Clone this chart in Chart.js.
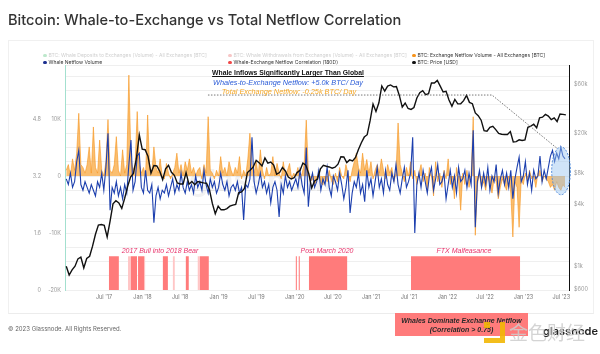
<!DOCTYPE html>
<html>
<head>
<meta charset="utf-8">
<script src="https://cdn.jsdelivr.net/npm/chart.js@4.4.0/dist/chart.umd.min.js"></script>
<style>
  body { margin: 0; background: #fff; font-family: Inter, "Noto Sans", sans-serif; }
  #wrap { position: relative; width: 600px; height: 354px; overflow: hidden; background: #fff; }
  #card { position: absolute; left: 8px; top: 40px; width: 584px; height: 272px; border: 1px solid #f0f0f0; border-bottom: 1px solid #ececec; }
  canvas { position: absolute; left: 0; top: 0; }
  .t { position: absolute; white-space: nowrap; line-height: 1; }
  .c { transform: translateX(-50%); }
  .lg { position: absolute; white-space: nowrap; font-size: 5px; line-height: 1; color: #333; }
  .lg i { display: inline-block; width: 3.5px; height: 3.5px; border-radius: 50%; margin-right: 2px; vertical-align: 0; }
  .lg.off { color: #cfcfcf; }
  .note { font-family: "Liberation Sans", Arial, sans-serif; font-size: 7.3px; }
  .era { font-family: "Liberation Sans", Arial, sans-serif; font-style: italic; font-size: 7px; color: #e8336b; }
  #redbox { position: absolute; left: 395px; top: 313px; width: 133px; height: 23px; background: #ff7b7b;
            font-family: "Liberation Sans", Arial, sans-serif; font-weight: bold; font-style: italic; font-size: 7px;
            color: #2a2a2a; text-align: center; line-height: 9px; padding-top: 3px; box-sizing: border-box; }
  #jlogo { position: absolute; left: 484px; top: 322px; width: 16px; height: 16px; border-right: 5px solid #f2b705; border-bottom: 5px solid #f2b705; opacity: 0.9; }
  #jlogo b { position: absolute; left: 0; top: 0; width: 6px; height: 6px; background: #f2b705; }
</style>
</head>
<body>
<div id="wrap">
  <div id="card"></div>
  <canvas id="chart" width="600" height="354"></canvas>

  <div class="t" style="left:8px;top:13px;font-size:14.6px;font-weight:500;color:#333;">Bitcoin: Whale-to-Exchange vs Total Netflow Correlation</div>

  <div class="lg off" style="left:43px;top:53px"><i style="background:#bde8cc"></i>BTC: Whale Deposits to Exchanges (Volume) - All Exchanges [BTC]</div>
  <div class="lg off" style="left:228px;top:53px"><i style="background:#f7c6c6"></i>BTC: Whale Withdrawals from Exchanges (Volume) - All Exchanges [BTC]</div>
  <div class="lg" style="left:412px;top:53px"><i style="background:#f7931a"></i>BTC: Exchange Netflow Volume - All Exchanges [BTC]</div>
  <div class="lg" style="left:43px;top:60px"><i style="background:#1c2f8f"></i>Whale Netflow Volume</div>
  <div class="lg" style="left:228px;top:60px"><i style="background:#f04848"></i>Whale-Exchange Netflow Correlation (180D)</div>
  <div class="lg" style="left:412px;top:60px"><i style="background:#111"></i>BTC: Price [USD]</div>

  <div class="t c note" style="left:288px;top:70px;font-weight:bold;font-size:6.8px;color:#111;text-decoration:underline;">Whale Inflows Significantly Larger Than Global</div>
  <div class="t c note" style="left:288px;top:79px;font-style:italic;color:#2a5bd7;">Whales-to-Exchange Netflow: +5.0k BTC/ Day</div>
  <div class="t c note" style="left:289px;top:87.5px;font-style:italic;color:#f5a623;">Total Exchange Netflow: -0.25k BTC/ Day</div>

  <div class="t c era" style="left:160px;top:247px;">2017 Bull into 2018 Bear</div>
  <div class="t c era" style="left:327px;top:247px;">Post March 2020</div>
  <div class="t c era" style="left:464px;top:247px;">FTX Malfeasance</div>

  <div class="t" style="left:8px;top:326px;font-size:6px;color:#666;">© 2023 Glassnode. All Rights Reserved.</div>
  <div id="redbox">Whales Dominate Exchange Netflow<br>(Correlation &gt; 0.75)</div>
  <div class="t" style="left:543px;top:326px;font-size:11px;font-weight:600;color:#222;">glassnode</div>
  <div id="jlogo"><b></b></div>
  <div class="t" style="left:509px;top:322px;font-size:19px;font-family:'Noto Sans CJK SC';color:rgba(205,205,205,0.85);">金色财经</div>
</div>

<script>
// Bitcoin whale-to-exchange vs total netflow, Glassnode style

const d = s => Date.parse(s + 'T00:00:00Z');

// x axis
const xMin = '2016-12-26';
const xMax = '2023-08-07';
const xTicks = ['2017-07-01', '2018-01-01', '2018-07-01', '2019-01-01', '2019-07-01', '2020-01-01', '2020-07-01',
  '2021-01-01', '2021-07-01', '2022-01-01', '2022-07-01', '2023-01-01', '2023-07-01'];
const xTickLabels = ["Jul '17", "Jan '18", "Jul '18", "Jan '19", "Jul '19", "Jan '20", "Jul '20",
  "Jan '21", "Jul '21", "Jan '22", "Jul '22", "Jan '23", "Jul '23"];

// netflow series, one value every 10 days from flowStart, in thousands of BTC
const flowStart = '2017-01-01';
const flowStepDays = 10;
const whaleNetflow = [
  -0.5, -1.5, 0.5, -2.0, -1.0, 2.5, 4.5, -1.5, -2.5, -1.0,
  -2.0, -3.0, -1.5, -2.5, -3.5, -1.0, -2.0, 0.5, -2.5, 1.5,
  7.5, -6.0, -2.0, -3.0, -1.0, -3.5, -2.0, -4.0, -1.5, -3.0,
  2.0, 6.3, -2.5, -1.0, 3.5, 4.0, -2.0, -3.0, 1.0, -2.5,
  -3.0, -1.5, -8.2, -3.5, -2.0, -4.0, -2.5, -3.0, -1.5, -3.5,
  -2.0, -0.5, -3.0, -1.5, -2.5, 0.5, -2.0, -3.0, -1.0, -2.5,
  -1.5, -3.0, 0.0, -2.0, -1.0, -2.5, 1.0, -1.5, -3.0, -0.5,
  -2.0, -1.0, -3.0, -2.0, 0.5, -1.5, -2.5, -1.0, -3.5, -2.0,
  -1.5, -2.5, -1.0, -3.0, -2.0, -7.7, -1.5, -2.0, -0.5, 6.8,
  -1.0, -3.0, -1.5, 0.5, -2.0, -1.0, -3.0, -1.5, -4.7, -2.0,
  -1.0, -2.5, -7.2, -1.5, -3.0, 0.0, -2.0, -1.0, -2.5, -1.5,
  -0.5, -2.0, 1.0, -1.5, -3.0, 5.0, -5.4, -1.0, 0.5, -2.0,
  -1.0, 1.0, -2.5, -0.5, -1.5, 1.5, -2.0, -3.5, 0.0, -1.0,
  -2.5, 0.5, -1.5, -4.0, -2.0, 1.0, -6.5, -3.0, -1.0, -2.0,
  0.5, -3.0, -1.5, -4.5, 1.0, -2.0, -0.5, -3.5, -1.0, 1.5,
  -2.0, -0.5, -3.0, 1.0, -1.5, -2.5, 0.5, -1.0, 2.0, -1.5,
  -3.0, -0.5, 1.5, -2.0, -1.0, 0.5, 6.8, -10.0, -1.5, 0.5,
  -2.0, 1.0, -1.0, -3.0, 0.0, 1.5, -2.5, -0.5, 2.0, -1.5,
  -1.0, 0.5, -4.0, -1.5, 1.0, -2.0, 0.0, -3.0, 1.5, -1.0,
  -0.5, 1.0, -2.0, 0.5, -1.5, 8.0, -9.0, -1.0, 1.0, -2.0,
  0.5, -1.5, 1.5, -2.5, 0.0, -1.0, 2.0, -3.0, -0.5, 1.0,
  -1.5, 0.5, -2.0, 1.0, -4.0, -0.5, 1.5, 3.3, -1.0, 0.0,
  2.5, -1.5, 0.5, -2.5, 1.0, -0.5, 0.0, 3.5, -1.0, 1.0,
  -0.5, 1.5, 3.5, 4.5, 2.5, 4.0, 3.0, 5.0, 3.5, 3.0
];
const exchangeNetflow = [
  1.0, 2.0, 0.0, 3.0, 1.0, 4.0, 11.0, 2.0, 1.5, 0.5,
  2.0, 5.1, 0.5, 8.6, 1.5, 0.5, 6.3, 1.0, 0.0, 2.5,
  9.9, 1.0, 0.5, 2.0, 6.9, 1.0, 0.0, 4.6, 0.5, 2.0,
  17.7, 3.0, 1.0, 2.0, 11.3, 2.0, 0.5, 1.5, 0.0, 10.7,
  1.0, 0.5, 5.1, 1.5, 0.5, 3.0, 0.0, -0.5, 2.2, 0.5,
  -0.5, 0.5, 1.5, 4.0, 0.5, 2.0, 0.0, 2.5, 1.0, 3.0,
  0.5, 1.5, 0.0, 1.0, 1.5, -0.5, 2.0, 0.5, 10.4, 1.0,
  0.5, -0.5, 1.0, 0.0, 3.4, 0.5, 1.5, 0.0, 2.5, 1.0,
  0.0, 1.5, 0.5, 3.4, -0.5, 1.0, 0.0, 3.0, 7.5, 2.0,
  0.5, 2.5, 0.0, 4.6, 1.0, -0.5, 1.5, 0.0, 0.5, 3.4,
  0.0, 2.2, 0.5, -0.5, 2.5, 0.0, 1.0, 2.2, -0.5, 0.5,
  0.0, 1.5, -0.5, 0.5, 2.0, 9.8, 1.0, -1.0, -0.5, -1.5,
  -0.7, 0.5, -1.2, -1.6, 0.0, -1.0, 1.0, -0.8, -1.5, 0.5,
  -1.0, 1.5, 0.0, -0.5, 2.0, 0.5, -1.0, 1.0, 2.5, 4.0,
  1.5, 0.5, 4.0, 1.0, 2.9, 0.5, 2.5, -0.5, 1.0, 2.0,
  0.5, 3.0, 1.0, -0.5, 2.0, 0.5, 1.5, -1.0, 0.5, 9.3,
  2.0, 0.5, -1.0, 1.5, 0.0, 2.5, -0.5, 1.0, -1.5, 0.5,
  2.0, -1.0, 0.5, -2.5, 1.5, 0.0, -3.5, 2.5, -1.0, 0.5,
  -2.0, 1.0, -0.5, 3.0, -1.5, 0.0, -4.0, 1.5, -1.0, -6.0,
  0.5, -1.5, 1.0, -2.0, 0.0, 10.4, -10.4, -1.5, 0.5, -2.0,
  -1.0, -2.5, 0.0, -1.5, -3.0, -0.5, -1.0, -4.0, -2.0, -0.5,
  -1.5, -2.5, 0.0, -3.0, -10.7, -1.0, -2.0, -9.0, -0.5, -1.5,
  0.5, -1.0, 1.0, -0.5, 0.0, -2.0, 0.5, 1.0, -1.0, 0.0,
  -0.5, -1.0, -2.0, -1.5, -2.5, -1.0, -2.0, -2.5, -1.5, -2.0
];

// BTC price, one value every 14 days from priceStart, USD
const priceStart = '2017-01-01';
const priceStepDays = 14;
const priceUsd = [
  1000, 820, 920, 1000, 1180, 1230, 960, 1190, 1250, 1570, 2050, 2520, 2550, 2500, 1930, 2760, 4060, 4350,
  4150, 3670, 4600, 5980, 7400, 8040, 11250, 19100, 13850,
  13700, 11750, 8100, 9600, 9500, 8450, 7000, 8900, 9650, 8250, 7700, 6500, 6350, 6350, 8200, 6300, 6700,
  6250, 6700, 6600, 6500, 6450, 5600, 4100, 3250, 3850,
  3550, 3550, 3650, 3850, 3950, 4000, 5200, 5300, 5750, 8200, 8700, 9300, 10800, 10200, 9500, 11400, 10150,
  10400, 9700, 7900, 8200, 9200, 8500, 7400, 7100, 7300,
  8200, 8600, 10150, 9700, 8000, 5800, 6800, 7100, 8900, 9650, 9450, 9300, 9050, 9250, 9900, 11700, 11650,
  10250, 10900, 10650, 11500, 13750, 16000, 18200, 19200, 26300,
  38200, 32300, 39300, 57400, 51200, 57300, 58700, 56200, 56600, 46400, 35600, 39100, 34600, 33900, 35400,
  43800, 49300, 51700, 47200, 48200, 61500, 61300, 65000, 57200, 50100, 50800,
  41800, 36300, 42400, 38400, 38400, 41300, 46400, 39700, 38500, 31300, 29400, 26600, 21000, 20800, 22600,
  23200, 21500, 19800, 19400, 19300, 19300, 20600, 16300, 16450, 17100, 16840,
  17100, 22700, 23300, 24300, 22400, 28000, 28450, 30300, 29200, 26900, 28000, 25800, 30500, 30300, 30000
];
const priceTicks = [600, 1000, 4000, 8000, 20000, 60000];
const priceTickLabels = ['$600', '$1k', '$4k', '$8k', '$20k', '$60k'];

// periods with whale/exchange netflow correlation above 0.75
const corrLevel = 0.95;
const strongCorr = [
  ['2017-07-24', '2017-09-10'], ['2017-11-07', '2017-12-06'], ['2017-12-11', '2018-01-09'],
  ['2018-04-09', '2018-05-03'], ['2018-07-28', '2018-08-11'], ['2018-10-03', '2018-11-15'],
  ['2020-01-06', '2020-01-11'], ['2020-01-20', '2020-01-25'], ['2020-03-09', '2020-09-08'],
  ['2021-07-11', '2022-12-16']
];
const weakCorr = [
  ['2017-10-24', '2017-11-07'], ['2018-01-09', '2018-01-14'], ['2018-05-27', '2018-06-05'], ['2018-09-23', '2018-10-03']
];

// annotation shapes, in data units (date, thousand BTC)
const callout = [['2018-11-11', 14.2], ['2022-08-03', 14.2], ['2023-06-09', 4.9]];
const highlight = { date: '2023-06-30', value: 0.9, halfDays: 45, halfValue: 4.2 };

const DAY = 86400000;
const toSeries = (start, step, vals) => vals.map((v, i) => ({ x: d(start) + i * step * DAY, y: v }));
const toSteps = ranges => ranges.flatMap(([s, e]) => [{ x: d(s), y: corrLevel }, { x: d(e), y: 0 }]);

const overlays = {
  id: 'overlays',
  beforeDatasetsDraw(chart) {
    const { ctx } = chart;
    ctx.save();
    ctx.font = 'bold 30px Inter, sans-serif';
    ctx.fillStyle = 'rgba(0,0,0,0.05)';
    ctx.textAlign = 'center';
    ctx.textBaseline = 'middle';
    ctx.fillText('glassnode', 265, 182);
    ctx.restore();
  },
  afterDatasetsDraw(chart) {
    const { ctx, scales: { x, whale } } = chart;
    ctx.save();
    // ellipse around the recent whale inflows
    const cx = x.getPixelForValue(d(highlight.date));
    const cy = whale.getPixelForValue(highlight.value);
    const rx = Math.abs(x.getPixelForValue(d(highlight.date) + highlight.halfDays * DAY) - cx);
    const ry = Math.abs(whale.getPixelForValue(highlight.value + highlight.halfValue) - cy);
    ctx.beginPath();
    ctx.ellipse(cx, cy, rx, ry, 0, 0, Math.PI * 2);
    ctx.fillStyle = 'rgba(150,195,240,0.45)';
    ctx.fill();
    ctx.setLineDash([2, 1.5]);
    ctx.strokeStyle = '#4a86d9';
    ctx.lineWidth = 1;
    ctx.stroke();
    // dotted callout line
    ctx.beginPath();
    callout.forEach(([t, v], i) => {
      const px = x.getPixelForValue(d(t));
      const py = whale.getPixelForValue(v);
      i ? ctx.lineTo(px, py) : ctx.moveTo(px, py);
    });
    ctx.setLineDash([1.5, 1.5]);
    ctx.strokeStyle = '#555';
    ctx.lineWidth = 0.8;
    ctx.stroke();
    ctx.restore();
  }
};

const axisFont = { family: 'Inter, sans-serif', size: 5.5 };

new Chart(document.getElementById('chart'), {
  type: 'line',
  data: {
    datasets: [
      {
        label: 'BTC: Price [USD]',
        data: toSeries(priceStart, priceStepDays, priceUsd),
        yAxisID: 'price',
        borderColor: '#111',
        borderWidth: 1.4,
        pointRadius: 0,
        order: 0
      },
      {
        label: 'Whale Netflow Volume',
        data: toSeries(flowStart, flowStepDays, whaleNetflow),
        yAxisID: 'whale',
        borderColor: '#1c3fae',
        borderWidth: 1.1,
        pointRadius: 0,
        order: 1
      },
      {
        label: 'BTC: Exchange Netflow Volume - All Exchanges [BTC]',
        data: toSeries(flowStart, flowStepDays, exchangeNetflow),
        yAxisID: 'whale',
        borderColor: 'rgba(247,147,26,0.85)',
        backgroundColor: 'rgba(247,155,35,0.65)',
        borderWidth: 0.7,
        pointRadius: 0,
        fill: 'origin',
        order: 2
      },
      {
        label: 'Correlation > 0.75',
        data: toSteps(strongCorr),
        yAxisID: 'corr',
        stepped: true,
        borderWidth: 0,
        borderColor: 'rgba(0,0,0,0)',
        backgroundColor: '#ff7b7b',
        pointRadius: 0,
        fill: 'origin',
        order: 3
      },
      {
        label: 'Correlation near 0.75',
        data: toSteps(weakCorr),
        yAxisID: 'corr',
        stepped: true,
        borderWidth: 0,
        borderColor: 'rgba(0,0,0,0)',
        backgroundColor: '#ffc6c6',
        pointRadius: 0,
        fill: 'origin',
        order: 4
      }
    ]
  },
  options: {
    responsive: false,
    animation: false,
    devicePixelRatio: 1,
    layout: { padding: { left: 20, right: 0, top: 65, bottom: 50 } },
    plugins: { legend: { display: false }, tooltip: { enabled: false } },
    scales: {
      x: {
        type: 'linear',
        min: d(xMin),
        max: d(xMax),
        grid: { display: false, drawTicks: false },
        border: { display: false },
        afterBuildTicks: ax => { ax.ticks = xTicks.map(s => ({ value: d(s) })); },
        afterFit: ax => { ax.height = 14; },
        ticks: {
          autoSkip: false,
          maxRotation: 0,
          padding: 4,
          color: '#777',
          font: axisFont,
          callback: (v, i) => xTickLabels[i]
        }
      },
      corr: {
        position: 'left',
        weight: 2,
        min: 0,
        max: 6.32,
        grid: { color: '#efefef', drawTicks: false },
        border: { display: false },
        afterFit: ax => { ax.width = 24; },
        ticks: {
          stepSize: 0.4,
          autoSkip: false,
          padding: 3,
          color: '#999',
          font: axisFont,
          callback: v => {
            const k = v / 1.6;
            return Math.abs(k - Math.round(k)) < 1e-6 && v <= 4.8 ? String(+v.toFixed(1)) : '';
          }
        }
      },
      whale: {
        position: 'left',
        weight: 1,
        min: -20,
        max: 19.47,
        grid: { display: false, drawTicks: false },
        border: { color: '#a3e0cf', width: 1 },
        afterFit: ax => { ax.width = 21; },
        ticks: {
          stepSize: 10,
          autoSkip: false,
          padding: 4,
          color: '#999',
          font: axisFont,
          callback: v => (Number.isInteger(v) && v % 10 === 0 ? (v === 0 ? '0' : v + 'K') : '')
        }
      },
      price: {
        type: 'logarithmic',
        position: 'right',
        min: 586,
        max: 91900,
        grid: { display: false, drawTicks: false },
        border: { color: '#111', width: 1 },
        afterBuildTicks: ax => { ax.ticks = priceTicks.map(v => ({ value: v })); },
        afterFit: ax => { ax.width = 31; },
        ticks: {
          autoSkip: false,
          padding: 5,
          color: '#999',
          font: axisFont,
          callback: (v, i) => priceTickLabels[i]
        }
      }
    }
  },
  plugins: [overlays]
});
</script>
</body>
</html>
